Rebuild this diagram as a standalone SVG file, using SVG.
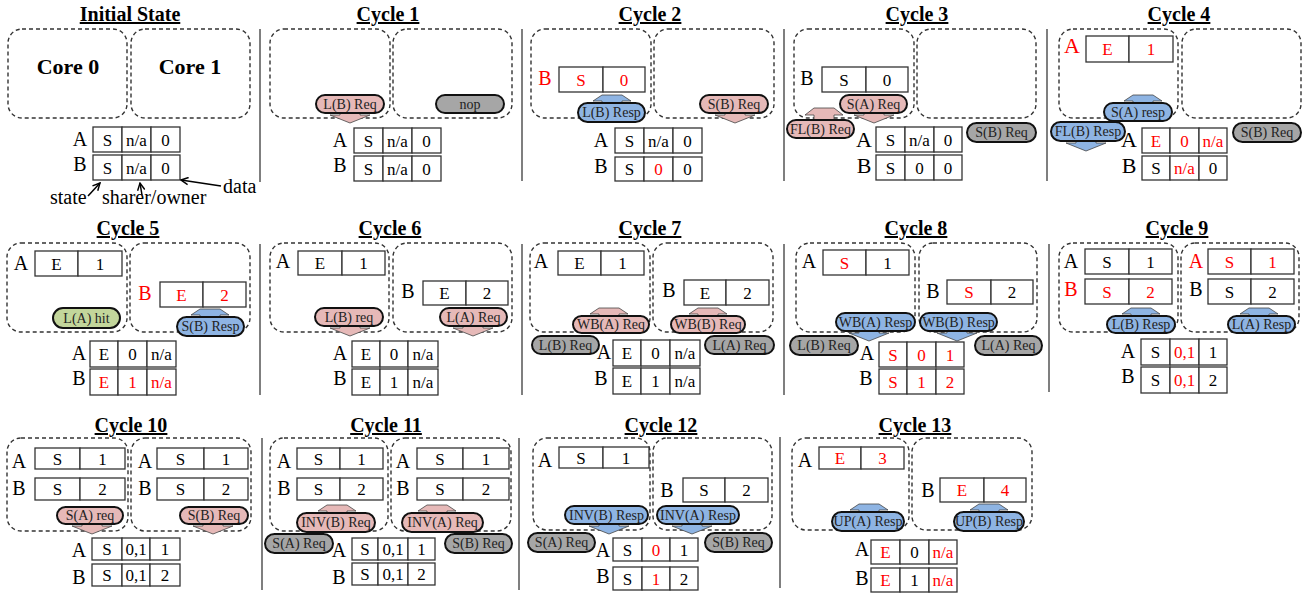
<svg xmlns="http://www.w3.org/2000/svg" width="1307" height="595" viewBox="0 0 1307 595">
<defs>
<marker id="ah" viewBox="0 0 10 10" refX="9" refY="5" markerWidth="9" markerHeight="9" orient="auto" markerUnits="userSpaceOnUse"><path d="M1,1 L9,5 L1,9" fill="none" stroke="#000" stroke-width="1.6"/></marker>
</defs>
<style>
text{font-family:"Liberation Serif","Times New Roman",serif;fill:#000}
.ti{font-size:20px;font-weight:bold;text-anchor:middle;text-decoration:underline}
.core{fill:none;stroke:#333;stroke-width:1.4;stroke-dasharray:4 3}
.cl{fill:#fff;stroke:#333;stroke-width:1.3}
.c{font-size:17px;text-anchor:middle}
.l{font-size:20px;text-anchor:middle}
.lb{font-size:22px;text-anchor:middle}
.r{fill:#ff0000}
.pl{stroke:#111;stroke-width:2}
.pk{fill:#e6b9b8}
.bl{fill:#8eb4e3}
.gy{fill:#a6a6a6}
.gn{fill:#c3d69b}
.ar{stroke:#444;stroke-width:0.8}
.pt{font-size:14px;text-anchor:middle;fill:#222}
.sep{stroke:#555;stroke-width:1.5}
.cr{font-size:22px;font-weight:bold;text-anchor:middle}
.an{font-size:20px}
.al{stroke:#000;stroke-width:1.5;fill:none}
</style>
<rect width="1307" height="595" fill="#fff"/>
<g id="separators">
<line class="sep" x1="260" y1="29" x2="260" y2="182"/><line class="sep" x1="522" y1="29" x2="522" y2="181"/><line class="sep" x1="784" y1="29" x2="784" y2="181"/><line class="sep" x1="1047" y1="29" x2="1047" y2="181"/>
<line class="sep" x1="260" y1="244" x2="260" y2="395"/><line class="sep" x1="522" y1="244" x2="522" y2="395"/><line class="sep" x1="784" y1="244" x2="784" y2="395"/><line class="sep" x1="1049" y1="244" x2="1049" y2="392"/>
<line class="sep" x1="262" y1="438" x2="262" y2="590"/><line class="sep" x1="519" y1="438" x2="519" y2="590"/><line class="sep" x1="780" y1="437" x2="780" y2="588"/>
</g>
<g id="panels">
<g id="init">
<text class="ti" x="130" y="21">Initial State</text>
<g id="init-core0"><rect class="core" x="8" y="29" width="119" height="89" rx="14"/><text class="cr" x="68" y="74">Core 0</text></g>
<g id="init-core1"><rect class="core" x="131" y="29" width="119" height="89" rx="14"/><text class="cr" x="190" y="74">Core 1</text></g>
<g id="init-dir">
<text class="l" x="80" y="146">A</text>
<rect class="cl" x="93" y="127" width="29" height="25"/><rect class="cl" x="122" y="127" width="29" height="25"/><rect class="cl" x="151" y="127" width="29" height="25"/>
<text class="c" x="107.5" y="145.5">S</text><text class="c" x="136.5" y="145.5">n/a</text><text class="c" x="165.5" y="145.5">0</text>
<text class="l" x="80" y="171">B</text>
<rect class="cl" x="93" y="155" width="29" height="25"/><rect class="cl" x="122" y="155" width="29" height="25"/><rect class="cl" x="151" y="155" width="29" height="25"/>
<text class="c" x="107.5" y="173.5">S</text><text class="c" x="136.5" y="173.5">n/a</text><text class="c" x="165.5" y="173.5">0</text>
</g>
<g id="init-legend">
<text class="an" x="223" y="193">data</text>
<text class="an" x="50" y="204">state</text>
<text class="an" x="102" y="204">sharer/owner</text>
</g>
</g>

<g id="cycle1">
<text class="ti" x="388" y="21">Cycle 1</text>
<g id="c1-core0"><rect class="core" x="270" y="29" width="120" height="89" rx="14"/></g>
<g id="c1-core1"><rect class="core" x="393" y="29" width="119" height="89" rx="14"/></g>
<g id="c1-dir">
<text class="l" x="340" y="147">A</text>
<rect class="cl" x="354" y="128" width="29" height="25"/><rect class="cl" x="383" y="128" width="29" height="25"/><rect class="cl" x="412" y="128" width="29" height="25"/>
<text class="c" x="368.5" y="146.5">S</text><text class="c" x="397.5" y="146.5">n/a</text><text class="c" x="426.5" y="146.5">0</text>
<text class="l" x="340" y="172">B</text>
<rect class="cl" x="354" y="156" width="29" height="25"/><rect class="cl" x="383" y="156" width="29" height="25"/><rect class="cl" x="412" y="156" width="29" height="25"/>
<text class="c" x="368.5" y="174.5">S</text><text class="c" x="397.5" y="174.5">n/a</text><text class="c" x="426.5" y="174.5">0</text>
</g>
</g>

<g id="cycle2">
<text class="ti" x="650" y="21">Cycle 2</text>
<g id="c2-core0"><rect class="core" x="531" y="29" width="120" height="89" rx="14"/></g>
<g id="c2-core1"><rect class="core" x="654" y="29" width="120" height="89" rx="14"/></g>
<g id="c2-cache0">
<text class="l r" x="545" y="85">B</text>
<rect class="cl" x="559" y="67" width="44" height="25"/><rect class="cl" x="603" y="67" width="42" height="25"/>
<text class="c r" x="581" y="85.5">S</text><text class="c r" x="624" y="85.5">0</text>
</g>
<g id="c2-dir">
<text class="l" x="601" y="147">A</text>
<rect class="cl" x="615" y="128" width="29" height="25"/><rect class="cl" x="644" y="128" width="29" height="25"/><rect class="cl" x="673" y="128" width="29" height="25"/>
<text class="c" x="629.5" y="146.5">S</text><text class="c" x="658.5" y="146.5">n/a</text><text class="c" x="687.5" y="146.5">0</text>
<text class="l" x="601" y="173">B</text>
<rect class="cl" x="615" y="157" width="29" height="24"/><rect class="cl" x="644" y="157" width="29" height="24"/><rect class="cl" x="673" y="157" width="29" height="24"/>
<text class="c" x="629.5" y="175">S</text><text class="c r" x="658.5" y="175">0</text><text class="c" x="687.5" y="175">0</text>
</g>
</g>

<g id="cycle3">
<text class="ti" x="917" y="21">Cycle 3</text>
<g id="c3-core0"><rect class="core" x="794" y="29" width="120" height="89" rx="14"/></g>
<g id="c3-core1"><rect class="core" x="917" y="29" width="119" height="89" rx="14"/></g>
<g id="c3-cache0">
<text class="l" x="807" y="85">B</text>
<rect class="cl" x="822" y="67" width="44" height="25"/><rect class="cl" x="866" y="67" width="42" height="25"/>
<text class="c" x="844" y="85.5">S</text><text class="c" x="887" y="85.5">0</text>
</g>
<g id="c3-dir">
<text class="lb" x="864" y="147">A</text>
<rect class="cl" x="876" y="127" width="29" height="25"/><rect class="cl" x="905" y="127" width="29" height="25"/><rect class="cl" x="934" y="127" width="28" height="25"/>
<text class="c" x="890.5" y="145.5">S</text><text class="c" x="919.5" y="145.5">n/a</text><text class="c" x="948" y="145.5">0</text>
<text class="lb" x="864" y="173">B</text>
<rect class="cl" x="876" y="155" width="29" height="25"/><rect class="cl" x="905" y="155" width="29" height="25"/><rect class="cl" x="934" y="155" width="28" height="25"/>
<text class="c" x="890.5" y="173.5">S</text><text class="c" x="919.5" y="173.5">0</text><text class="c" x="948" y="173.5">0</text>
</g>
</g>

<g id="cycle4">
<text class="ti" x="1179" y="21">Cycle 4</text>
<g id="c4-core0"><rect class="core" x="1059" y="29" width="119" height="89" rx="14"/></g>
<g id="c4-core1"><rect class="core" x="1182" y="29" width="119" height="89" rx="14"/></g>
<g id="c4-cache0">
<text class="lb r" x="1072" y="53">A</text>
<rect class="cl" x="1086" y="36" width="43" height="26"/><rect class="cl" x="1129" y="36" width="44" height="26"/>
<text class="c r" x="1107.5" y="55">E</text><text class="c r" x="1151" y="55">1</text>
</g>
<g id="c4-dir">
<text class="lb" x="1129" y="147">A</text>
<rect class="cl" x="1142" y="128" width="28" height="25"/><rect class="cl" x="1170" y="128" width="29" height="25"/><rect class="cl" x="1199" y="128" width="28" height="25"/>
<text class="c r" x="1156" y="146.5">E</text><text class="c r" x="1184.5" y="146.5">0</text><text class="c r" x="1213" y="146.5">n/a</text>
<text class="lb" x="1129" y="173">B</text>
<rect class="cl" x="1142" y="156" width="28" height="24"/><rect class="cl" x="1170" y="156" width="29" height="24"/><rect class="cl" x="1199" y="156" width="28" height="24"/>
<text class="c" x="1156" y="174">S</text><text class="c r" x="1184.5" y="174">n/a</text><text class="c" x="1213" y="174">0</text>
</g>
</g>

<g id="cycle5">
<text class="ti" x="128" y="235">Cycle 5</text>
<g id="c5-core0"><rect class="core" x="7" y="243" width="120" height="89" rx="14"/></g>
<g id="c5-core1"><rect class="core" x="130" y="243" width="120" height="89" rx="14"/></g>
<g id="c5-cache0">
<text class="l" x="21" y="270">A</text>
<rect class="cl" x="35" y="251" width="43" height="25"/><rect class="cl" x="78" y="251" width="44" height="25"/>
<text class="c" x="56.5" y="269.5">E</text><text class="c" x="100" y="269.5">1</text>
</g>
<g id="c5-cache1">
<text class="l r" x="145" y="300">B</text>
<rect class="cl" x="160" y="282" width="43" height="25"/><rect class="cl" x="203" y="282" width="43" height="25"/>
<text class="c r" x="181.5" y="300.5">E</text><text class="c r" x="224.5" y="300.5">2</text>
</g>
<g id="c5-dir">
<text class="l" x="79" y="360">A</text>
<rect class="cl" x="90" y="341" width="28" height="26"/><rect class="cl" x="118" y="341" width="29" height="26"/><rect class="cl" x="147" y="341" width="29" height="26"/>
<text class="c" x="104" y="360">E</text><text class="c" x="132.5" y="360">0</text><text class="c" x="161.5" y="360">n/a</text>
<text class="l" x="79" y="385">B</text>
<rect class="cl" x="90" y="369" width="28" height="26"/><rect class="cl" x="118" y="369" width="29" height="26"/><rect class="cl" x="147" y="369" width="29" height="26"/>
<text class="c r" x="104" y="388">E</text><text class="c r" x="132.5" y="388">1</text><text class="c r" x="161.5" y="388">n/a</text>
</g>
</g>

<g id="cycle6">
<text class="ti" x="390" y="235">Cycle 6</text>
<g id="c6-core0"><rect class="core" x="270" y="243" width="119" height="89" rx="14"/></g>
<g id="c6-core1"><rect class="core" x="393" y="243" width="119" height="89" rx="14"/></g>
<g id="c6-cache0">
<text class="l" x="283" y="268">A</text>
<rect class="cl" x="298" y="251" width="44" height="24"/><rect class="cl" x="342" y="251" width="43" height="24"/>
<text class="c" x="320" y="269">E</text><text class="c" x="363.5" y="269">1</text>
</g>
<g id="c6-cache1">
<text class="l" x="408" y="298">B</text>
<rect class="cl" x="423" y="281" width="43" height="24"/><rect class="cl" x="466" y="281" width="42" height="24"/>
<text class="c" x="444.5" y="299">E</text><text class="c" x="487" y="299">2</text>
</g>
<g id="c6-dir">
<text class="l" x="340" y="360">A</text>
<rect class="cl" x="352" y="341" width="28" height="26"/><rect class="cl" x="380" y="341" width="28" height="26"/><rect class="cl" x="408" y="341" width="30" height="26"/>
<text class="c" x="366" y="360">E</text><text class="c" x="394" y="360">0</text><text class="c" x="423" y="360">n/a</text>
<text class="l" x="340" y="385">B</text>
<rect class="cl" x="352" y="369" width="28" height="26"/><rect class="cl" x="380" y="369" width="28" height="26"/><rect class="cl" x="408" y="369" width="30" height="26"/>
<text class="c" x="366" y="388">E</text><text class="c" x="394" y="388">1</text><text class="c" x="423" y="388">n/a</text>
</g>
</g>

<g id="cycle7">
<text class="ti" x="650" y="235">Cycle 7</text>
<g id="c7-core0"><rect class="core" x="530" y="243" width="120" height="89" rx="14"/></g>
<g id="c7-core1"><rect class="core" x="653" y="243" width="120" height="89" rx="14"/></g>
<g id="c7-cache0">
<text class="l" x="541" y="268">A</text>
<rect class="cl" x="558" y="251" width="43" height="24"/><rect class="cl" x="601" y="251" width="43" height="24"/>
<text class="c" x="579.5" y="269">E</text><text class="c" x="622.5" y="269">1</text>
</g>
<g id="c7-cache1">
<text class="l" x="669" y="297">B</text>
<rect class="cl" x="684" y="280" width="42" height="25"/><rect class="cl" x="726" y="280" width="43" height="25"/>
<text class="c" x="705" y="298.5">E</text><text class="c" x="747.5" y="298.5">2</text>
</g>
<g id="c7-dir">
<text class="l" x="604" y="359">A</text>
<rect class="cl" x="613" y="340" width="28" height="26"/><rect class="cl" x="641" y="340" width="29" height="26"/><rect class="cl" x="670" y="340" width="30" height="26"/>
<text class="c" x="627" y="359">E</text><text class="c" x="655.5" y="359">0</text><text class="c" x="685" y="359">n/a</text>
<text class="l" x="601" y="385">B</text>
<rect class="cl" x="613" y="368" width="28" height="26"/><rect class="cl" x="641" y="368" width="29" height="26"/><rect class="cl" x="670" y="368" width="30" height="26"/>
<text class="c" x="627" y="387">E</text><text class="c" x="655.5" y="387">1</text><text class="c" x="685" y="387">n/a</text>
</g>
</g>

<g id="cycle8">
<text class="ti" x="916" y="235">Cycle 8</text>
<g id="c8-core0"><rect class="core" x="796" y="243" width="119" height="89" rx="14"/></g>
<g id="c8-core1"><rect class="core" x="919" y="243" width="118" height="89" rx="14"/></g>
<g id="c8-cache0">
<text class="l" x="809" y="268">A</text>
<rect class="cl" x="823" y="250" width="43" height="25"/><rect class="cl" x="866" y="250" width="43" height="25"/>
<text class="c r" x="844.5" y="268.5">S</text><text class="c" x="887.5" y="268.5">1</text>
</g>
<g id="c8-cache1">
<text class="l" x="933" y="298">B</text>
<rect class="cl" x="947" y="280" width="44" height="24"/><rect class="cl" x="991" y="280" width="42" height="24"/>
<text class="c r" x="969" y="298">S</text><text class="c" x="1012" y="298">2</text>
</g>
<g id="c8-dir">
<text class="l" x="867" y="360">A</text>
<rect class="cl" x="879" y="342" width="28" height="25"/><rect class="cl" x="907" y="342" width="29" height="25"/><rect class="cl" x="936" y="342" width="28" height="25"/>
<text class="c r" x="893" y="360.5">S</text><text class="c r" x="921.5" y="360.5">0</text><text class="c r" x="950" y="360.5">1</text>
<text class="l" x="866" y="385">B</text>
<rect class="cl" x="879" y="369" width="28" height="25"/><rect class="cl" x="907" y="369" width="29" height="25"/><rect class="cl" x="936" y="369" width="28" height="25"/>
<text class="c r" x="893" y="387.5">S</text><text class="c r" x="921.5" y="387.5">1</text><text class="c r" x="950" y="387.5">2</text>
</g>
</g>

<g id="cycle9">
<text class="ti" x="1177" y="235">Cycle 9</text>
<g id="c9-core0"><rect class="core" x="1059" y="243" width="119" height="89" rx="14"/></g>
<g id="c9-core1"><rect class="core" x="1181" y="243" width="118" height="89" rx="14"/></g>
<g id="c9-cache0">
<text class="l" x="1071" y="268">A</text>
<rect class="cl" x="1085" y="249" width="44" height="25"/><rect class="cl" x="1129" y="249" width="43" height="25"/>
<text class="c" x="1107" y="267.5">S</text><text class="c" x="1150.5" y="267.5">1</text>
<text class="l r" x="1071" y="296">B</text>
<rect class="cl" x="1085" y="279" width="44" height="25"/><rect class="cl" x="1129" y="279" width="43" height="25"/>
<text class="c r" x="1107" y="297.5">S</text><text class="c r" x="1150.5" y="297.5">2</text>
</g>
<g id="c9-cache1">
<text class="l r" x="1196" y="268">A</text>
<rect class="cl" x="1208" y="249" width="43" height="25"/><rect class="cl" x="1251" y="249" width="43" height="25"/>
<text class="c r" x="1229.5" y="267.5">S</text><text class="c r" x="1272.5" y="267.5">1</text>
<text class="l" x="1196" y="296">B</text>
<rect class="cl" x="1208" y="279" width="43" height="25"/><rect class="cl" x="1251" y="279" width="43" height="25"/>
<text class="c" x="1229.5" y="297.5">S</text><text class="c" x="1272.5" y="297.5">2</text>
</g>
<g id="c9-dir">
<text class="l" x="1128" y="358">A</text>
<rect class="cl" x="1141" y="339" width="29" height="26"/><rect class="cl" x="1170" y="339" width="29" height="26"/><rect class="cl" x="1199" y="339" width="28" height="26"/>
<text class="c" x="1155.5" y="358">S</text><text class="c r" x="1184.5" y="358">0,1</text><text class="c" x="1213" y="358">1</text>
<text class="l" x="1128" y="383">B</text>
<rect class="cl" x="1141" y="367" width="29" height="26"/><rect class="cl" x="1170" y="367" width="29" height="26"/><rect class="cl" x="1199" y="367" width="28" height="26"/>
<text class="c" x="1155.5" y="386">S</text><text class="c r" x="1184.5" y="386">0,1</text><text class="c" x="1213" y="386">2</text>
</g>
</g>

<g id="cycle10">
<text class="ti" x="131" y="432">Cycle 10</text>
<g id="c10-core0"><rect class="core" x="7" y="438" width="121" height="93" rx="14"/></g>
<g id="c10-core1"><rect class="core" x="131" y="438" width="120" height="93" rx="14"/></g>
<g id="c10-cache0">
<text class="l" x="19" y="468">A</text>
<rect class="cl" x="35" y="448" width="45" height="21"/><rect class="cl" x="80" y="448" width="45" height="21"/>
<text class="c" x="57.5" y="464.5">S</text><text class="c" x="102.5" y="464.5">1</text>
<text class="l" x="19" y="495">B</text>
<rect class="cl" x="35" y="478" width="45" height="22"/><rect class="cl" x="80" y="478" width="45" height="22"/>
<text class="c" x="57.5" y="495">S</text><text class="c" x="102.5" y="495">2</text>
</g>
<g id="c10-cache1">
<text class="l" x="145" y="468">A</text>
<rect class="cl" x="157" y="448" width="47" height="21"/><rect class="cl" x="204" y="448" width="44" height="21"/>
<text class="c" x="180.5" y="464.5">S</text><text class="c" x="226" y="464.5">1</text>
<text class="l" x="145" y="495">B</text>
<rect class="cl" x="157" y="478" width="47" height="22"/><rect class="cl" x="204" y="478" width="44" height="22"/>
<text class="c" x="180.5" y="495">S</text><text class="c" x="226" y="495">2</text>
</g>
<g id="c10-dir">
<text class="l" x="79" y="557">A</text>
<rect class="cl" x="92" y="538" width="30" height="22"/><rect class="cl" x="122" y="538" width="28" height="22"/><rect class="cl" x="150" y="538" width="30" height="22"/>
<text class="c" x="107" y="555">S</text><text class="c" x="136" y="555">0,1</text><text class="c" x="165" y="555">1</text>
<text class="l" x="79" y="584">B</text>
<rect class="cl" x="92" y="564" width="30" height="22"/><rect class="cl" x="122" y="564" width="28" height="22"/><rect class="cl" x="150" y="564" width="30" height="22"/>
<text class="c" x="107" y="581">S</text><text class="c" x="136" y="581">0,1</text><text class="c" x="165" y="581">2</text>
</g>
</g>

<g id="cycle11">
<text class="ti" x="386" y="432">Cycle 11</text>
<g id="c11-core0"><rect class="core" x="270" y="438" width="118" height="93" rx="14"/></g>
<g id="c11-core1"><rect class="core" x="391" y="438" width="120" height="93" rx="14"/></g>
<g id="c11-cache0">
<text class="l" x="284" y="468">A</text>
<rect class="cl" x="297" y="448" width="43" height="21"/><rect class="cl" x="340" y="448" width="43" height="21"/>
<text class="c" x="318.5" y="464.5">S</text><text class="c" x="361.5" y="464.5">1</text>
<text class="l" x="284" y="495">B</text>
<rect class="cl" x="297" y="478" width="43" height="22"/><rect class="cl" x="340" y="478" width="43" height="22"/>
<text class="c" x="318.5" y="495">S</text><text class="c" x="361.5" y="495">2</text>
</g>
<g id="c11-cache1">
<text class="l" x="403" y="468">A</text>
<rect class="cl" x="417" y="448" width="46" height="21"/><rect class="cl" x="463" y="448" width="46" height="21"/>
<text class="c" x="440" y="464.5">S</text><text class="c" x="486" y="464.5">1</text>
<text class="l" x="403" y="495">B</text>
<rect class="cl" x="417" y="478" width="46" height="22"/><rect class="cl" x="463" y="478" width="46" height="22"/>
<text class="c" x="440" y="495">S</text><text class="c" x="486" y="495">2</text>
</g>
<g id="c11-dir">
<text class="l" x="339" y="557">A</text>
<rect class="cl" x="352" y="538" width="26" height="22"/><rect class="cl" x="378" y="538" width="30" height="22"/><rect class="cl" x="408" y="538" width="27" height="22"/>
<text class="c" x="365" y="555">S</text><text class="c" x="393" y="555">0,1</text><text class="c" x="421.5" y="555">1</text>
<text class="l" x="339" y="584">B</text>
<rect class="cl" x="352" y="563" width="26" height="22"/><rect class="cl" x="378" y="563" width="30" height="22"/><rect class="cl" x="408" y="563" width="27" height="22"/>
<text class="c" x="365" y="580">S</text><text class="c" x="393" y="580">0,1</text><text class="c" x="421.5" y="580">2</text>
</g>
</g>

<g id="cycle12">
<text class="ti" x="661" y="432">Cycle 12</text>
<g id="c12-core0"><rect class="core" x="533" y="438" width="117" height="92" rx="14"/></g>
<g id="c12-core1"><rect class="core" x="653" y="438" width="119" height="92" rx="14"/></g>
<g id="c12-cache0">
<text class="l" x="545" y="467">A</text>
<rect class="cl" x="559" y="447" width="44" height="21"/><rect class="cl" x="603" y="447" width="46" height="21"/>
<text class="c" x="581" y="463.5">S</text><text class="c" x="626" y="463.5">1</text>
</g>
<g id="c12-cache1">
<text class="l" x="667" y="497">B</text>
<rect class="cl" x="683" y="478" width="42" height="24"/><rect class="cl" x="725" y="478" width="43" height="24"/>
<text class="c" x="704" y="496">S</text><text class="c" x="746.5" y="496">2</text>
</g>
<g id="c12-dir">
<text class="l" x="603" y="557">A</text>
<rect class="cl" x="613" y="538" width="29" height="23"/><rect class="cl" x="642" y="538" width="28" height="23"/><rect class="cl" x="670" y="538" width="28" height="23"/>
<text class="c" x="627.5" y="555.5">S</text><text class="c r" x="656" y="555.5">0</text><text class="c" x="684" y="555.5">1</text>
<text class="l" x="603" y="583">B</text>
<rect class="cl" x="613" y="567" width="29" height="23"/><rect class="cl" x="642" y="567" width="28" height="23"/><rect class="cl" x="670" y="567" width="28" height="23"/>
<text class="c" x="627.5" y="584.5">S</text><text class="c r" x="656" y="584.5">1</text><text class="c" x="684" y="584.5">2</text>
</g>
</g>

<g id="cycle13">
<text class="ti" x="915" y="432">Cycle 13</text>
<g id="c13-core0"><rect class="core" x="792" y="438" width="117" height="92" rx="14"/></g>
<g id="c13-core1"><rect class="core" x="912" y="438" width="120" height="92" rx="14"/></g>
<g id="c13-cache0">
<text class="l" x="805" y="467">A</text>
<rect class="cl" x="819" y="447" width="42" height="22"/><rect class="cl" x="861" y="447" width="43" height="22"/>
<text class="c r" x="840" y="464">E</text><text class="c r" x="882.5" y="464">3</text>
</g>
<g id="c13-cache1">
<text class="l" x="928" y="497">B</text>
<rect class="cl" x="940" y="478" width="44" height="24"/><rect class="cl" x="984" y="478" width="42" height="24"/>
<text class="c r" x="962" y="496">E</text><text class="c r" x="1005" y="496">4</text>
</g>
<g id="c13-dir">
<text class="l" x="862" y="556">A</text>
<rect class="cl" x="871" y="540" width="29" height="24"/><rect class="cl" x="900" y="540" width="29" height="24"/><rect class="cl" x="929" y="540" width="28" height="24"/>
<text class="c r" x="885.5" y="558">E</text><text class="c" x="914.5" y="558">0</text><text class="c r" x="943" y="558">n/a</text>
<text class="l" x="862" y="585">B</text>
<rect class="cl" x="871" y="568" width="29" height="24"/><rect class="cl" x="900" y="568" width="29" height="24"/><rect class="cl" x="929" y="568" width="28" height="24"/>
<text class="c r" x="885.5" y="586">E</text><text class="c" x="914.5" y="586">1</text><text class="c r" x="943" y="586">n/a</text>
</g>
</g>
</g>

<g id="connectors">
<line class="al" x1="88" y1="196" x2="100" y2="183" marker-end="url(#ah)"/>
<line class="al" x1="142" y1="195" x2="140" y2="183" marker-end="url(#ah)"/>
<line class="al" x1="221" y1="186" x2="181" y2="180" marker-end="url(#ah)"/>
<polygon class="ar pk" points="340,110 360,110 360,115 370,115 350,123 330,115 340,115"/>
<polygon class="ar pk" points="725,110 745,110 745,115 755,115 735,123 715,115 725,115"/>
<polygon class="ar pk" points="864,110 884,110 884,115 894,115 874,123 854,115 864,115"/>
<polygon class="ar bl" points="1076,138 1096,138 1096,143 1106,143 1086,151 1066,143 1076,143"/>
<polygon class="ar pk" points="340,323 360,323 360,328 370,328 350,336 330,328 340,328"/>
<polygon class="ar pk" points="463,323 483,323 483,328 493,328 473,336 453,328 463,328"/>
<polygon class="ar bl" points="859,328 879,328 879,333 889,333 869,341 849,333 859,333"/>
<polygon class="ar bl" points="947,328 967,328 967,333 977,333 957,341 937,333 947,333"/>
<polygon class="ar pk" points="82,521 102,521 102,526 112,526 92,534 72,526 82,526"/>
<polygon class="ar pk" points="203,521 223,521 223,526 233,526 213,534 193,526 203,526"/>
<polygon class="ar bl" points="599,521 619,521 619,526 629,526 609,534 589,526 599,526"/>
<polygon class="ar bl" points="682,521 702,521 702,526 712,526 692,534 672,526 682,526"/>
<polygon class="ar bl" points="602,106 602,101 593,101 602,95 622,95 631,101 622,101 622,106"/>
<polygon class="ar pk" points="814,124 814,115 805,115 814,108 834,108 843,115 834,115 834,124"/>
<polygon class="ar bl" points="1133,106 1133,101 1124,101 1133,95 1153,95 1162,101 1153,101 1153,106"/>
<polygon class="ar bl" points="200,320 200,315 191,315 200,309 220,309 229,315 220,315 220,320"/>
<polygon class="ar pk" points="599,319 599,314 590,314 599,308 619,308 628,314 619,314 619,319"/>
<polygon class="ar pk" points="698,319 698,314 689,314 698,308 718,308 727,314 718,314 718,319"/>
<polygon class="ar bl" points="1131,319 1131,314 1122,314 1131,308 1151,308 1160,314 1151,314 1151,319"/>
<polygon class="ar bl" points="1249,319 1249,314 1240,314 1249,308 1269,308 1278,314 1269,314 1269,319"/>
<polygon class="ar pk" points="327,516 327,511 318,511 327,505 347,505 356,511 347,511 347,516"/>
<polygon class="ar pk" points="427,516 427,511 418,511 427,505 447,505 456,511 447,511 447,516"/>
<polygon class="ar bl" points="859,515 859,510 850,510 859,504 879,504 888,510 879,510 879,515"/>
<polygon class="ar bl" points="979,515 979,510 970,510 979,504 999,504 1008,510 999,510 999,515"/>
</g>

<g id="messages">
<g id="c1-m1"><rect class="pl pk" x="316" y="95" width="68" height="18" rx="9"/><text class="pt" x="350" y="108.5">L(B) Req</text></g>
<g id="c1-m2"><rect class="pl gy" x="436" y="95" width="68" height="18" rx="9"/><text class="pt" x="470" y="108.5">nop</text></g>
<g id="c2-m1"><rect class="pl bl" x="578" y="103" width="67" height="19" rx="9.5"/><text class="pt" x="611.5" y="117">L(B) Resp</text></g>
<g id="c2-m2"><rect class="pl pk" x="700" y="95" width="68" height="18" rx="9"/><text class="pt" x="734" y="108.5">S(B) Req</text></g>
<g id="c3-m1"><rect class="pl pk" x="840" y="95" width="67" height="18" rx="9"/><text class="pt" x="873.5" y="108.5">S(A) Req</text></g>
<g id="c3-m2"><rect class="pl pk" x="787" y="120" width="67" height="18" rx="9"/><text class="pt" x="820.5" y="133.5">FL(B) Req</text></g>
<g id="c3-m3"><rect class="pl gy" x="967" y="123" width="69" height="19" rx="9.5"/><text class="pt" x="1001.5" y="137">S(B) Req</text></g>
<g id="c4-m1"><rect class="pl bl" x="1104" y="103" width="68" height="18" rx="9"/><text class="pt" x="1138" y="116.5">S(A) resp</text></g>
<g id="c4-m2"><rect class="pl bl" x="1051" y="122" width="74" height="19" rx="9.5"/><text class="pt" x="1088" y="136">FL(B) Resp</text></g>
<g id="c4-m3"><rect class="pl gy" x="1233" y="123" width="68" height="19" rx="9.5"/><text class="pt" x="1267" y="137">S(B) Req</text></g>
<g id="c5-m1"><rect class="pl gn" x="53" y="308" width="67" height="20" rx="10"/><text class="pt" x="86.5" y="322.5">L(A) hit</text></g>
<g id="c5-m2"><rect class="pl bl" x="177" y="317" width="67" height="19" rx="9.5"/><text class="pt" x="210.5" y="331">S(B) Resp</text></g>
<g id="c6-m1"><rect class="pl pk" x="315" y="308" width="68" height="18" rx="9"/><text class="pt" x="349" y="321.5">L(B) req</text></g>
<g id="c6-m2"><rect class="pl pk" x="440" y="308" width="67" height="18" rx="9"/><text class="pt" x="473.5" y="321.5">L(A) Req</text></g>
<g id="c7-m1"><rect class="pl pk" x="573" y="316" width="76" height="17" rx="8.5"/><text class="pt" x="611" y="329">WB(A) Req</text></g>
<g id="c7-m2"><rect class="pl pk" x="671" y="316" width="74" height="17" rx="8.5"/><text class="pt" x="708" y="329">WB(B) Req</text></g>
<g id="c7-m3"><rect class="pl gy" x="532" y="336" width="67" height="18" rx="9"/><text class="pt" x="565.5" y="349.5">L(B) Req</text></g>
<g id="c7-m4"><rect class="pl gy" x="705" y="336" width="69" height="18" rx="9"/><text class="pt" x="739.5" y="349.5">L(A) Req</text></g>
<g id="c8-m1"><rect class="pl bl" x="836" y="313" width="79" height="18" rx="9"/><text class="pt" x="875.5" y="326.5">WB(A) Resp</text></g>
<g id="c8-m2"><rect class="pl bl" x="920" y="313" width="77" height="18" rx="9"/><text class="pt" x="958.5" y="326.5">WB(B) Resp</text></g>
<g id="c8-m3"><rect class="pl gy" x="790" y="336" width="68" height="19" rx="9.5"/><text class="pt" x="824" y="350">L(B) Req</text></g>
<g id="c8-m4"><rect class="pl gy" x="975" y="336" width="67" height="19" rx="9.5"/><text class="pt" x="1008.5" y="350">L(A) Req</text></g>
<g id="c9-m1"><rect class="pl bl" x="1107" y="316" width="68" height="17" rx="8.5"/><text class="pt" x="1141" y="329">L(B) Resp</text></g>
<g id="c9-m2"><rect class="pl bl" x="1228" y="316" width="67" height="17" rx="8.5"/><text class="pt" x="1261.5" y="329">L(A) Resp</text></g>
<g id="c10-m1"><rect class="pl pk" x="57" y="507" width="66" height="17" rx="8.5"/><text class="pt" x="90" y="520">S(A) req</text></g>
<g id="c10-m2"><rect class="pl pk" x="180" y="507" width="68" height="17" rx="8.5"/><text class="pt" x="214" y="520">S(B) Req</text></g>
<g id="c11-m1"><rect class="pl pk" x="297" y="513" width="78" height="19" rx="9.5"/><text class="pt" x="336" y="527">INV(B) Req</text></g>
<g id="c11-m2"><rect class="pl pk" x="402" y="513" width="81" height="19" rx="9.5"/><text class="pt" x="442.5" y="527">INV(A) Req</text></g>
<g id="c11-m3"><rect class="pl gy" x="265" y="534" width="68" height="19" rx="9.5"/><text class="pt" x="299" y="548">S(A) Req</text></g>
<g id="c11-m4"><rect class="pl gy" x="445" y="534" width="67" height="19" rx="9.5"/><text class="pt" x="478.5" y="548">S(B) Req</text></g>
<g id="c12-m1"><rect class="pl bl" x="565" y="506" width="83" height="18" rx="9"/><text class="pt" x="606.5" y="519.5">INV(B) Resp</text></g>
<g id="c12-m2"><rect class="pl bl" x="657" y="506" width="82" height="18" rx="9"/><text class="pt" x="698" y="519.5">INV(A) Resp</text></g>
<g id="c12-m3"><rect class="pl gy" x="528" y="533" width="67" height="19" rx="9.5"/><text class="pt" x="561.5" y="547">S(A) Req</text></g>
<g id="c12-m4"><rect class="pl gy" x="705" y="533" width="67" height="19" rx="9.5"/><text class="pt" x="738.5" y="547">S(B) Req</text></g>
<g id="c13-m1"><rect class="pl bl" x="832" y="512" width="72" height="19" rx="9.5"/><text class="pt" x="868" y="526">UP(A) Resp</text></g>
<g id="c13-m2"><rect class="pl bl" x="954" y="512" width="70" height="19" rx="9.5"/><text class="pt" x="989" y="526">UP(B) Resp</text></g>
</g>
</svg>
